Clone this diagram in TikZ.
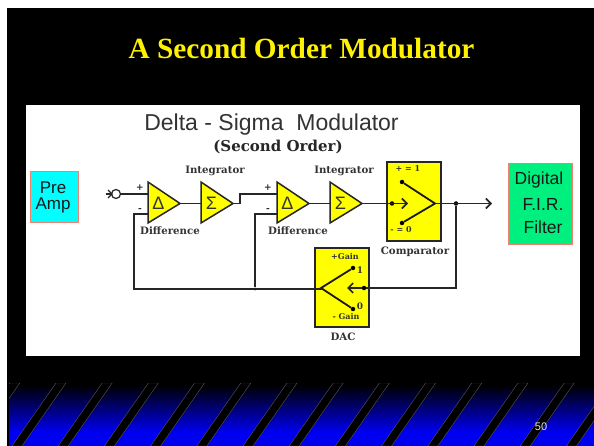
\documentclass[tikz,border=0pt]{standalone}
\usepackage{fontspec}
\setmainfont{Liberation Serif}
\setsansfont{Liberation Sans}
\newfontfamily\capfont{DejaVu Serif}
\usetikzlibrary{arrows.meta,positioning,calc,shapes.geometric}
\definecolor{slideblue}{HTML}{0000F0}
\definecolor{ampcyan}{HTML}{00FFFF}
\definecolor{firgreen}{HTML}{00F080}
\definecolor{boxedge}{HTML}{F08070}
\definecolor{stagefill}{HTML}{FFFF00}
\definecolor{stripeedge}{HTML}{555555}
\tikzset{
  x=1pt,y=-1pt,
  sig/.style={line width=1.6pt,draw=black!85},
  openarrow/.style={sig,-{Straight Barb[length=5pt,width=10pt]}},
  stage/.style={draw=black!85,line width=1.5pt,fill=stagefill},
  sidebox/.style={draw=boxedge,line width=0.8pt,inner sep=0pt},
  sidetext/.style={font=\sffamily\fontsize{17.5}{20}\selectfont,text=black!90,align=center,inner sep=0pt},
  caption/.style={font=\capfont\bfseries\fontsize{10.2}{12}\selectfont,text=black!80,inner sep=0pt},
  sign/.style={font=\capfont\bfseries\fontsize{9}{11}\selectfont,text=black!85,inner sep=0pt},
  small/.style={font=\capfont\bfseries\fontsize{8}{10}\selectfont,text=black!80,inner sep=0pt},
  symbol/.style={font=\sffamily\fontsize{18}{20}\selectfont,text=black!80,inner sep=0pt},
  dot/.style={circle,fill=black,inner sep=0pt,minimum size=4.5pt},
}
% one triangular stage: #1 = name, #2 = left edge x, #3 = symbol
\newcommand{\stagetri}[3]{
  \draw[stage] (#2,182) -- (#2+32,203.5) -- (#2,223) -- cycle;
  \coordinate (#1in) at (#2,203.5);
  \coordinate (#1plus) at (#2,194);
  \coordinate (#1minus) at (#2,214);
  \coordinate (#1out) at (#2+32,203.5);
  \node[symbol] (#1sym) at (#2+10.5,203.5) {#3};
}
\begin{document}
\begin{tikzpicture}
\useasboundingbox (0,0) rectangle (594,446);
\fill[white] (0,0) rectangle (594,446);
\fill[black] (7,8) rectangle (594,446);
% bottom band
\shade[top color=black,bottom color=slideblue] (9,385) rectangle (594,432);
\fill[slideblue] (9,431.5) rectangle (594,446);
\begin{scope}
  \clip (9,383) rectangle (594,446);
  \foreach \k in {-1,...,12}
    \draw[stripeedge,fill=black,line width=0.4pt]
      ({56+46.2*\k},383) -- ({66+46.2*\k},383) -- ({22+46.2*\k},446) -- ({12+46.2*\k},446) -- cycle;
\end{scope}
\node[font=\sffamily\fontsize{11}{13}\selectfont,text=white!90!black,inner sep=0pt] (pagenum) at (541,427) {50};
% heading
\node[font=\rmfamily\bfseries\fontsize{29.3}{32}\selectfont,text=yellow,inner sep=0pt,anchor=base] (heading) at (301.5,59) {A Second Order Modulator};
% white panel
\fill[white] (26,105) rectangle (580,356);
\node[font=\sffamily\fontsize{23}{26}\selectfont,text=black!80,inner sep=0pt,anchor=base] (panelhead) at (271.5,131) {Delta - Sigma\ \ Modulator};
\node[font=\capfont\bfseries\fontsize{15}{17}\selectfont,text=black!85,inner sep=0pt,anchor=base] (panelsub) at (278,152) {(Second Order)};
% side boxes
\node[sidebox,fill=ampcyan,minimum width=48pt,minimum height=51pt] (preamp) at (54,196.5) {};
\node[sidetext,font=\sffamily\fontsize{17}{16}\selectfont] (preamptext) at (53,197) {Pre\\Amp};
\node[sidebox,fill=firgreen,minimum width=64pt,minimum height=81pt] (firbox) at (540,203.5) {};
\node[sidetext] (firdigital) at (539,180) {Digital};
\node[sidetext] (firname) at (543,204) {F.I.R.};
\node[sidetext] (firfilter) at (543,227) {Filter};
% comparator and dac
\node[stage,minimum width=54pt,minimum height=79pt] (comp) at (414,201.5) {};
\node[stage,minimum width=54pt,minimum height=79pt] (dac) at (342,287.5) {};
% stages
\stagetri{diffa}{148}{Δ}
\stagetri{intea}{201}{Σ}
\stagetri{diffb}{277}{Δ}
\stagetri{inteb}{330}{Σ}
% signal path
\node[circle,draw=black!85,line width=1.2pt,fill=white,inner sep=0pt,minimum size=9pt] (inputnode) at (116,194) {};
\coordinate (inputend) at (106,194);
\draw[sig,line width=1.2pt] (inputend) -- (inputnode);
\draw[sig,line width=1.2pt] (108,190) -- (112,194) -- (108,198);
\draw[sig] (inputnode) -- (diffaplus);
\draw[sig] (diffaout) -- (inteain);
\draw[sig] (inteaout) -- ++(7,0) |- (diffbplus);
\draw[sig] (diffbout) -- (intebin);
\coordinate (compapex) at (435,203.5);
\node[dot] (compup) at (402,182) {};
\node[dot] (compdown) at (402,223) {};
\node[dot] (compin) at (392,203.5) {};
\coordinate (compinend) at (408,203.5);
\draw[openarrow] (intebout) -- (compinend);
\draw[line width=1.8pt,black!90] (compup) -- (compapex) -- (compdown);
% output and feedback
\node[dot] (outdot) at (456,203.5) {};
\coordinate (outend) at (492,203.5);
\draw[openarrow] (compapex) -- (outend);
\coordinate (dacapex) at (321,288);
\node[dot] (dacup) at (353,268) {};
\node[dot] (dacdown) at (353,309) {};
\node[dot] (dacin) at (364,288) {};
\coordinate (dacinend) at (347,288);
\draw[line width=1.8pt,black!90] (dacup) -- (dacapex) -- (dacdown);
\draw[sig] (outdot) |- (dacin);
\draw[openarrow] (dacin) -- (dacinend);
\node[dot,minimum size=3pt] (fbjoin) at (255,289) {};
\coordinate (fbcorner) at (134,289);
\draw[sig] (dacapex) -- (321,289) -- (fbcorner) |- (diffaminus);
\draw[sig] (fbjoin) |- (diffbminus);
% labels
\node[sign] (plusa) at (140,188) {+};
\node[sign] (minusa) at (140,210) {-};
\node[sign] (plusb) at (268,188) {+};
\node[sign] (minusb) at (268,210) {-};
\node[caption] (intega) at (215,171) {Integrator};
\node[caption] (integb) at (344,171) {Integrator};
\node[caption] (diffla) at (170,231) {Difference};
\node[caption] (difflb) at (298,231) {Difference};
\node[caption] (compl) at (415,252) {Comparator};
\node[caption] (dacl) at (343,337) {DAC};
\node[small] (compone) at (408,169) {+ = 1};
\node[small] (compzero) at (401,230) {- = 0};
\node[small] (gainup) at (345,257) {+Gain};
\node[small] (gaindown) at (346,317) {- Gain};
\node[small,font=\capfont\bfseries\fontsize{9}{10}\selectfont] (dacone) at (360,270) {1};
\node[small,font=\capfont\bfseries\fontsize{9}{10}\selectfont] (daczero) at (360,306) {0};
\end{tikzpicture}
\end{document}
